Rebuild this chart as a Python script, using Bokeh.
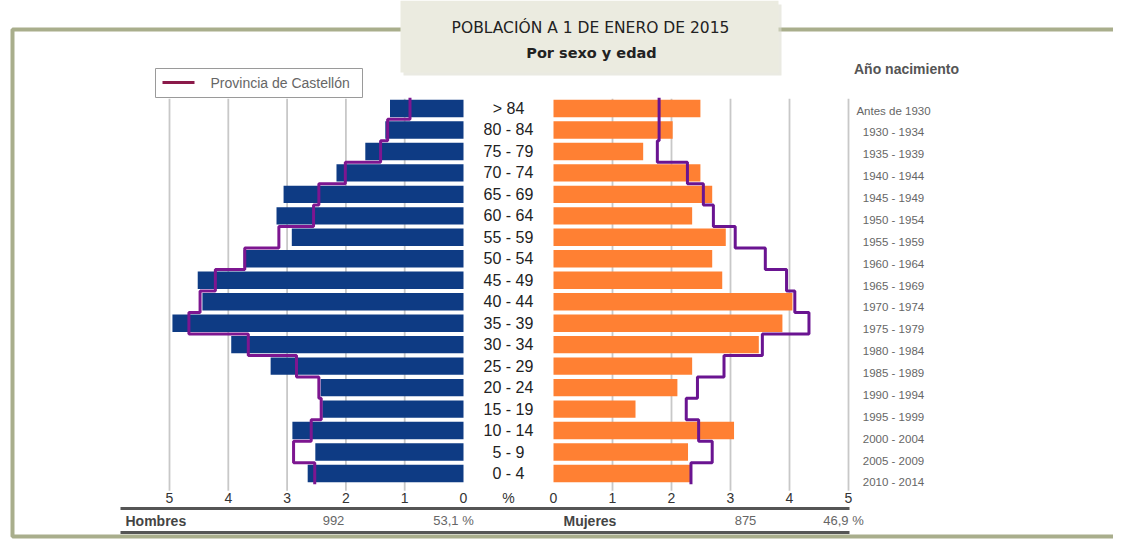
from bokeh.plotting import figure
from bokeh.models import Range1d, ColumnDataSource
from bokeh.core.properties import value
from bokeh.embed import file_html
from bokeh.resources import INLINE

# ---------------- data ----------------
ages = ["> 84", "80 - 84", "75 - 79", "70 - 74", "65 - 69", "60 - 64", "55 - 59",
        "50 - 54", "45 - 49", "40 - 44", "35 - 39", "30 - 34", "25 - 29", "20 - 24",
        "15 - 19", "10 - 14", "5 - 9", "0 - 4"]
birth_years = ["Antes de 1930", "1930 - 1934", "1935 - 1939", "1940 - 1944", "1945 - 1949",
               "1950 - 1954", "1955 - 1959", "1960 - 1964", "1965 - 1969", "1970 - 1974",
               "1975 - 1979", "1980 - 1984", "1985 - 1989", "1990 - 1994", "1995 - 1999",
               "2000 - 2004", "2005 - 2009", "2010 - 2014"]
men = [1.25, 1.33, 1.67, 2.16, 3.06, 3.18, 2.92, 3.74, 4.52, 4.44, 4.95, 3.95,
       3.28, 2.43, 2.40, 2.91, 2.52, 2.65]
women = [2.49, 2.02, 1.52, 2.49, 2.69, 2.35, 2.92, 2.69, 2.86, 4.05, 3.88, 3.48,
         2.35, 2.10, 1.39, 3.06, 2.28, 2.32]
men_prov = [0.91, 1.29, 1.41, 2.01, 2.46, 2.55, 3.14, 3.72, 4.22, 4.48, 4.67, 3.66,
            2.84, 2.46, 2.42, 2.59, 2.89, 2.53]
women_prov = [1.79, 1.79, 1.76, 2.27, 2.54, 2.71, 3.08, 3.59, 3.95, 4.09, 4.33, 3.54,
              2.89, 2.44, 2.25, 2.46, 2.69, 2.33]
ticks = [0, 1, 2, 3, 4, 5]
tick_labels = ["0", "1", "2", "3", "4", "5"]
title = "POBLACIÓN A 1 DE ENERO DE 2015"
subtitle = "Por sexo y edad"
legend_label = "Provincia de Castellón"
totals_labels = ["Hombres", "992", "53,1 %", "Mujeres", "875", "46,9 %"]

# ---------------- layout constants ----------------
W, H = 1113, 539
X_LO, X_HI = 0, W              # screenshot pixel coordinates
Y_TOP, Y_BOT = 0, H
L0, LS = 463, 58.8             # men zero & px per %
R0, RS = 553, 59.0             # women zero & px per %
A0, AS = 108, 21.47            # age rows
B0, BS = 110, 21.88            # birth-year rows

p = figure(width=W, height=H, output_backend="svg", toolbar_location=None,
           x_range=Range1d(X_LO, X_HI), y_range=Range1d(Y_BOT, Y_TOP),
           x_axis_location=None, y_axis_location=None, min_border=0)
p.grid.visible = False
p.outline_line_color = None
p.background_fill_color = "white"
p.border_fill_color = "white"

p.extra_x_ranges = {
    "men": Range1d((L0 - X_LO) / LS, (L0 - X_HI) / LS),
    "women": Range1d((X_LO - R0) / RS, (X_HI - R0) / RS),
}
p.extra_y_ranges = {
    "age": Range1d((Y_BOT - A0) / AS, (Y_TOP - A0) / AS),
    "birth": Range1d((Y_BOT - B0) / BS, (Y_TOP - B0) / BS),
}

idx = list(range(len(ages)))
src = ColumnDataSource(dict(idx=idx, age=ages, birth=birth_years, men=men, women=women))

# outer frame
p.quad(left=12, right=1135, top=29, bottom=536, fill_color=None,
       line_color="#a9ae8c", line_width=4)

# title box
p.quad(left=403, right=781, top=4, bottom=75, fill_color="#dcdccf", line_color=None, fill_alpha=0.6)
p.quad(left=400, right=778, top=0, bottom=72, fill_color="#ebebe0", line_color=None)
p.text(x=[590], y=[27], text=[title], text_align="center", text_baseline="middle",
       text_font=value("DejaVu Sans"), text_font_size="15.5px", text_color="#222222")
p.text(x=[591], y=[52], text=[subtitle], text_align="center", text_baseline="middle",
       text_font=value("DejaVu Sans"), text_font_size="14.5px", text_font_style="bold",
       text_color="#222222")

# grid lines
grid_ticks = ticks[1:]
p.segment(x0=grid_ticks, x1=grid_ticks, y0=-0.45, y1=17.8, x_range_name="men",
          y_range_name="age", line_color="#c8c8c8", line_width=1.8)
p.segment(x0=grid_ticks, x1=grid_ticks, y0=-0.45, y1=17.8, x_range_name="women",
          y_range_name="age", line_color="#c8c8c8", line_width=1.8)

# bars
p.hbar(y="idx", left=0, right="men", height=0.81, source=src, x_range_name="men",
       y_range_name="age", fill_color="#0e3b84", line_color=None)
p.hbar(y="idx", left=0, right="women", height=0.81, source=src, x_range_name="women",
       y_range_name="age", fill_color="#ff8033", line_color=None)

# province step outlines
def step_pts(vals):
    xs, ys = [], []
    for i, v in enumerate(vals):
        xs += [v, v]
        ys += [i - 0.5, i + 0.5]
    return xs, ys

mx, my = step_pts(men_prov)
wx, wy = step_pts(women_prov)
p.line(mx, my, x_range_name="men", y_range_name="age", line_color="#7d1690", line_width=3)
p.line(wx, wy, x_range_name="women", y_range_name="age", line_color="#6a1491", line_width=3)

# age labels
p.text(x=508, y="idx", text="age", source=src, y_range_name="age", text_align="center",
       text_baseline="middle", text_font=value("Liberation Sans"), text_font_size="16px",
       text_color="#222222")

# birth year labels
p.text(x=893, y="idx", text="birth", source=src, y_range_name="birth", text_align="center",
       text_baseline="middle", text_font=value("Liberation Sans"), text_font_size="11.5px",
       text_color="#666666")
p.text(x=[906], y=[68], text=["Año nacimiento"], text_align="center", text_baseline="middle",
       text_font=value("Liberation Sans"), text_font_size="14px", text_font_style="bold",
       text_color="#555555")

# x tick labels
p.text(x=ticks, y=[497] * len(ticks), text=tick_labels, x_range_name="men",
       text_align="center", text_baseline="middle", text_font=value("Liberation Sans"),
       text_font_size="14px", text_color="#333333")
p.text(x=ticks, y=[497] * len(ticks), text=tick_labels, x_range_name="women",
       text_align="center", text_baseline="middle", text_font=value("Liberation Sans"),
       text_font_size="14px", text_color="#333333")
p.text(x=[508], y=[497], text=["%"], text_align="center", text_baseline="middle",
       text_font=value("Liberation Sans"), text_font_size="14px", text_color="#333333")

# legend
p.quad(left=155, right=362, top=68, bottom=97, fill_color="white", line_color="#9a9a9a",
       line_width=1)
p.segment(x0=[162], x1=[194], y0=[82], y1=[82], line_color="#8b1a4a", line_width=3)
p.text(x=[210], y=[82], text=[legend_label], text_align="left", text_baseline="middle",
       text_font=value("Liberation Sans"), text_font_size="14px", text_color="#666666")

# totals rows
p.segment(x0=[120, 120], x1=[849, 849], y0=[508, 532], y1=[508, 532],
          line_color="#555555", line_width=3)
p.text(x=[125], y=[520], text=[totals_labels[0]], text_align="left", text_baseline="middle",
       text_font=value("Liberation Sans"), text_font_size="14px", text_font_style="bold",
       text_color="#444444")
p.text(x=[563], y=[520], text=[totals_labels[3]], text_align="left", text_baseline="middle",
       text_font=value("Liberation Sans"), text_font_size="14px", text_font_style="bold",
       text_color="#444444")
p.text(x=[333, 453, 745, 843], y=[520] * 4,
       text=[totals_labels[1], totals_labels[2], totals_labels[4], totals_labels[5]],
       text_align="center", text_baseline="middle", text_font=value("Liberation Sans"),
       text_font_size="13px", text_color="#666666")

open("out.html", "w").write(file_html(p, INLINE))
